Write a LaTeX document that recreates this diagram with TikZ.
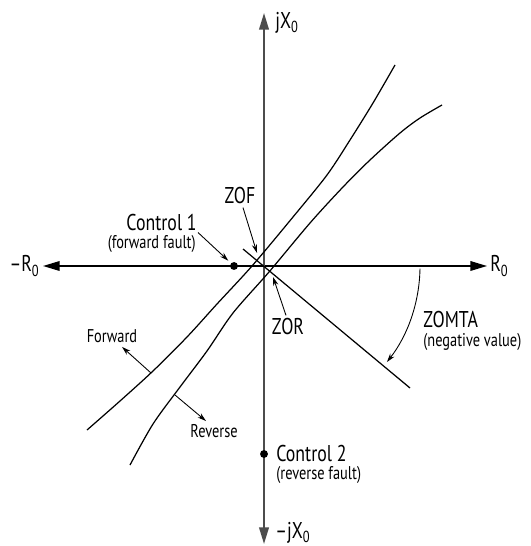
\documentclass[tikz,border=0pt]{standalone}
\usepackage{fontspec}
\setmainfont{PT Sans}[FakeStretch=0.78]
\usetikzlibrary{arrows.meta}

\begin{document}
\begin{tikzpicture}[x=0.02cm, y=-0.02cm,
    haxis/.style={line width=0.8pt},
    vaxis/.style={line width=1.1pt, black!70},
    curve/.style={line width=0.7pt},
    ptr/.style={line width=0.5pt, -{Stealth[length=5pt,width=3pt]}},
    lblbig/.style={font=\fontsize{13}{14}\selectfont, inner sep=0pt},
    lblsmall/.style={font=\fontsize{10.5}{11}\selectfont, inner sep=0pt},
    dot/.style={circle, fill, inner sep=0pt, minimum size=4.5pt}]
    \useasboundingbox (0,0) rectangle (530,546);

    % axes
    \coordinate (O) at (264,266);
    \coordinate (xpos) at (487,266);
    \coordinate (xneg) at (43,266);
    \coordinate (ypos) at (264,13);
    \coordinate (yneg) at (264,544);
    \draw[haxis, {Triangle[length=9.5pt,width=5.5pt]}-{Triangle[length=9.5pt,width=5.5pt]}] (xneg) -- (xpos);
    \draw[vaxis, {Triangle[length=9.5pt,width=5.5pt]}-{Triangle[length=9.5pt,width=5.5pt]}] (yneg) -- (ypos);
    \node[lblbig, anchor=west] (rpos) at (490,266) {R\textsubscript{0}};
    \node[lblbig, anchor=east] (rneg) at (40,266) {\textendash R\textsubscript{0}};
    \node[lblbig, anchor=west] (jpos) at (275,23) {jX\textsubscript{0}};
    \node[lblbig, anchor=west] (jneg) at (275,533) {\textendash jX\textsubscript{0}};

    % characteristic lines
    \coordinate (mtaA) at (243,249);
    \coordinate (mtaB) at (410,388);
    \draw[curve] (mtaA) -- (mtaB);
    \draw[curve] plot[smooth] coordinates {(87,430) (120,401) (153,371) (187,337) (217,304)
        (252,266) (293,217) (327,175) (350,140) (373,103) (395,65)};
    \draw[curve] plot[smooth] coordinates {(130,465) (153,424) (180,387) (207,351) (233,313)
        (269,272) (310,223) (343,187) (370,160) (400,133) (420,118) (442,105)};

    % control points
    \node[dot] (ctrl1) at (234,266) {};
    \node[dot] (ctrl2) at (264,454) {};
    \node[lblbig, anchor=base east] (c1top) at (197,231) {Control 1};
    \node[lblsmall, anchor=base east] (c1sub) at (196,249) {(forward fault)};
    \draw[ptr, shorten >=2pt] ([shift={(2,-3)}]c1sub.north east) -- (ctrl1);
    \node[lblbig, anchor=west] (c2top) at (276,454) {Control 2};
    \node[lblsmall, anchor=west] (c2sub) at (276,475) {(reverse fault)};

    % ZOF and ZOR
    \coordinate (fxing) at (257,253);
    \coordinate (rxing) at (273,277);
    \node[lblbig] (zof) at (240,196) {ZOF};
    \draw[ptr] ([shift={(3,3)}]zof.south) -- (fxing);
    \node[lblbig] (zor) at (288,327) {ZOR};
    \draw[ptr] ([shift={(-2,-3)}]zor.north) -- (rxing);

    % ZOMTA angle
    \draw[ptr] (O) ++(1:156) arc[start angle=1, end angle=38, radius=156];
    \node[lblbig, anchor=west] (zomta) at (423,320) {ZOMTA};
    \node[lblsmall, anchor=west] (zomtasub) at (423,342) {(negative value)};

    % curve labels
    \coordinate (fwdpt) at (151,373);
    \coordinate (revpt) at (175,395);
    \node[lblsmall] (fwd) at (112,336) {Forward};
    \node[lblsmall] (rev) at (214,431) {Reverse};
    \draw[ptr] (fwdpt) -- ([shift={(10,4)}]fwd.south);
    \draw[ptr] (revpt) -- ([shift={(-8,-3)}]rev.north);
\end{tikzpicture}
\end{document}
